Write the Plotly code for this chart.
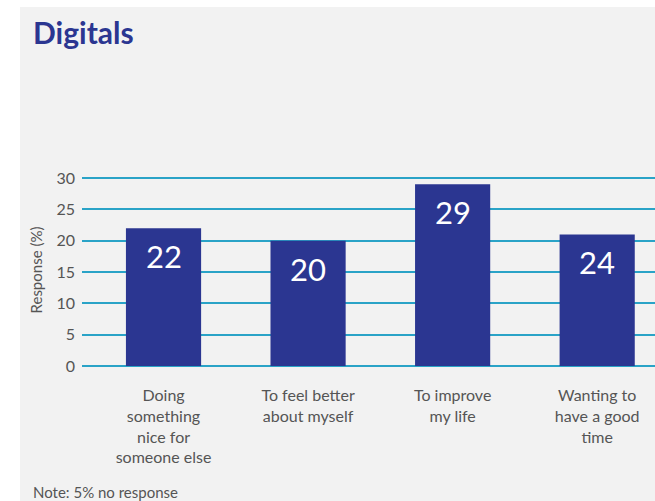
import plotly.graph_objects as go

categories = ["Doing<br>something<br>nice for<br>someone else",
              "To feel better<br>about myself",
              "To improve<br>my life",
              "Wanting to<br>have a good<br>time"]
bar_heights = [22, 20, 29, 21]
bar_labels = ["22", "20", "29", "24"]
y_ticks = [0, 5, 10, 15, 20, 25, 30]

NAVY = "#2b3691"
GRID = "#2aa3c7"
GREY_TXT = "#555555"
FONT = "Lato, Noto Sans, sans-serif"

fig = go.Figure()
fig.add_trace(go.Bar(
    x=categories, y=bar_heights,
    marker=dict(color=NAVY, line=dict(width=0)),
    width=0.52, hoverinfo="skip",
))

for c, h, t in zip(categories, bar_heights, bar_labels):
    fig.add_annotation(x=c, y=h, text=t, showarrow=False, yanchor="top",
                       yshift=-7, font=dict(family=FONT, size=31, color="white"))

L, R, T, B = 82, 0, 170, 131
W, H = 655, 501
pw, ph = W - L - R, H - T - B

# grey panel background
fig.add_shape(type="rect", xref="paper", yref="paper",
              x0=(20 - L) / pw, x1=1.2, y0=(T + ph - H - 5) / ph, y1=(T + ph - 7) / ph,
              fillcolor="#f2f2f2", line=dict(width=0), layer="below")

fig.add_annotation(xref="paper", yref="paper", x=(31 - L) / pw, y=(T + ph - 32) / ph,
                   text="Digitals", showarrow=False, xanchor="left", yanchor="middle",
                   font=dict(family=FONT, size=30, color=NAVY, weight="bold"))
fig.add_annotation(xref="paper", yref="paper", x=(31 - L) / pw, y=(T + ph - 492) / ph,
                   text="Note: 5% no response", showarrow=False, xanchor="left", yanchor="middle",
                   font=dict(family=FONT, size=15, color=GREY_TXT))

fig.update_layout(
    width=W, height=H,
    margin=dict(l=L, r=R, t=T, b=B),
    paper_bgcolor="white", plot_bgcolor="rgba(0,0,0,0)",
    showlegend=False,
    font=dict(family=FONT, color=GREY_TXT),
    xaxis=dict(range=[-0.564, 3.40], showgrid=False, zeroline=False, showline=False,
               ticks="", tickfont=dict(size=16, color=GREY_TXT), ticklabelstandoff=14,
               fixedrange=True),
    yaxis=dict(range=[-0.638, 31.28], tickvals=y_ticks, showgrid=True, gridcolor=GRID,
               gridwidth=1.5, zeroline=False, showline=False, ticks="",
               tickfont=dict(size=16, color=GREY_TXT), ticklabelstandoff=6,
               title=dict(text="Response (%)", font=dict(size=15, color=GREY_TXT), standoff=10)),
)

fig.write_html("out.html")
